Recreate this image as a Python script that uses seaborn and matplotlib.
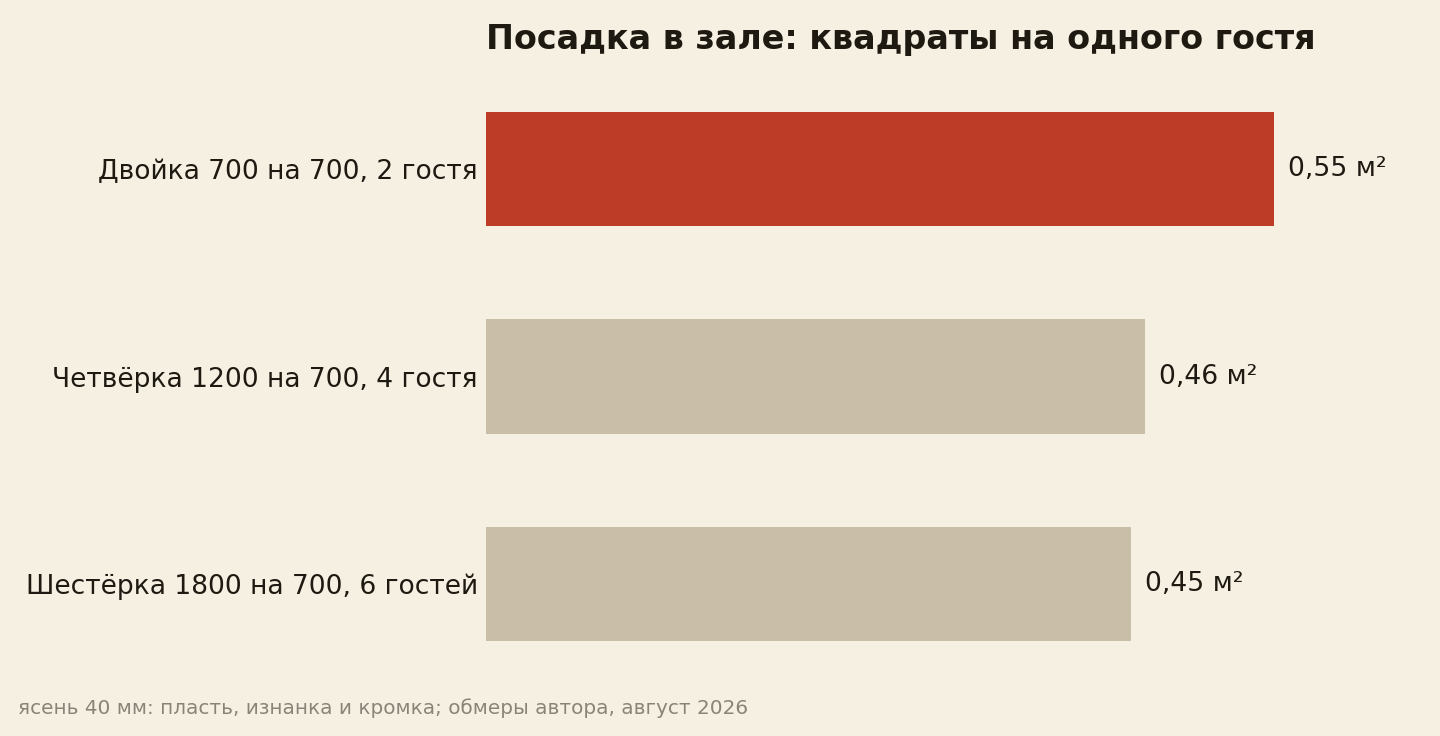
import matplotlib
matplotlib.use("Agg")
import matplotlib.pyplot as plt
import seaborn as sns
import pandas as pd

tables = ["Двойка 700 на 700, 2 гостя", "Четвёрка 1200 на 700, 4 гостя", "Шестёрка 1800 на 700, 6 гостей"]
area_per_guest = [0.55, 0.46, 0.45]
value_labels = ["0,55 м²", "0,46 м²", "0,45 м²"]

bg = "#F6F0E3"
ink = "#1E1A12"
bar_colors = ["#BC3C27", "#C9BFA8", "#C9BFA8"]

sns.set_theme(style="white")
plt.rcParams["font.family"] = ["DejaVu Sans"]

df = pd.DataFrame({"table": tables, "area": area_per_guest})

fig = plt.figure(figsize=(14.4, 7.36), dpi=100, facecolor=bg)
ax = fig.add_axes([486 / 1440, 1 - 688 / 736, (1400 - 486) / 1440, (688 - 65) / 736])
ax.set_facecolor(bg)

sns.barplot(data=df, x="area", y="table", hue="table", palette=bar_colors,
            legend=False, width=0.55, saturation=1, linewidth=0, ax=ax)

xmax = (1400 - 486) / (788 / 0.55)
ax.set_xlim(0, xmax)
ax.set_ylim(2.5, -0.5)

for i, (v, lab) in enumerate(zip(area_per_guest, value_labels)):
    ax.annotate(lab, (v, i), xytext=(10, 0), textcoords="offset points",
                va="center", ha="left", fontsize=19.2, color=ink)

ax.set_xlabel("")
ax.set_ylabel("")
ax.set_xticks([])
ax.tick_params(axis="y", length=0, pad=6, labelsize=19.1, labelcolor=ink)
sns.despine(ax=ax, left=True, bottom=True)

fig.text(486 / 1440, 1 - 40 / 736, "Посадка в зале: квадраты на одного гостя",
         fontsize=24, fontweight="bold", color=ink, ha="left", va="center")
fig.text(18 / 1440, 1 - 708 / 736,
         "ясень 40 мм: пласть, изнанка и кромка; обмеры автора, август 2026",
         fontsize=14.4, color="#8A8478", ha="left", va="center")

fig.savefig("out.png", dpi=100, facecolor=bg)
